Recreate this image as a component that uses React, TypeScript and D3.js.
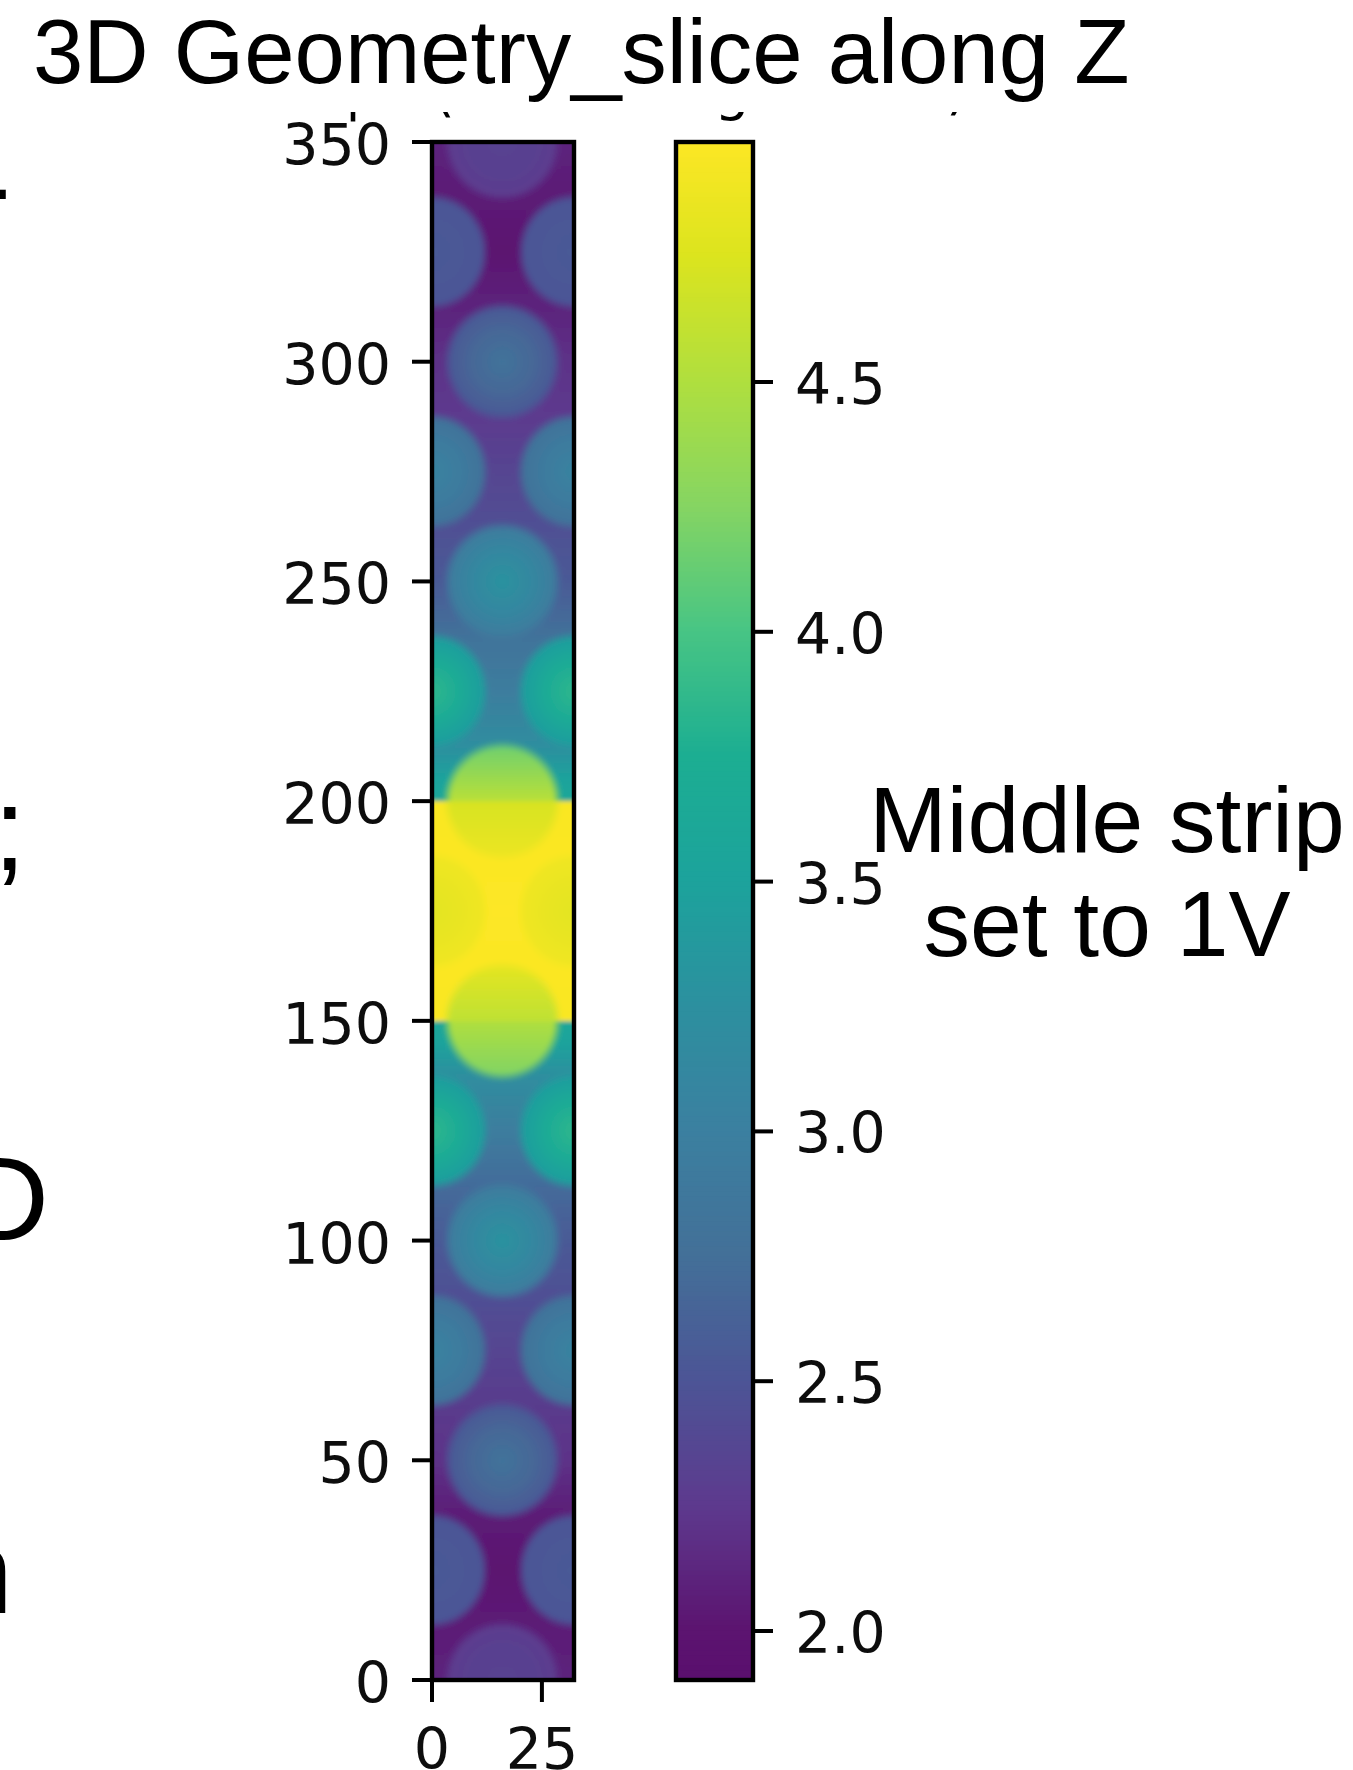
import React from "react";
import * as d3 from "d3";

const W = 1353, H = 1770;
const titleText = "3D Geometry_slice along Z";
const noteLines = ["Middle strip", "set to 1V"];
const yTicks = [0, 50, 100, 150, 200, 250, 300, 350];
const xTicks = [0, 25];
const cbTicks = [2.0, 2.5, 3.0, 3.5, 4.0, 4.5];

// colour ramp
const rampValues = [1.9, 2.0, 2.25, 2.5, 2.75, 3.0, 3.25, 3.5, 3.75, 4.0, 4.25, 4.5, 4.75, 4.98];
const rampColors = ["#5a0f6e", "#5c1470", "#5d3a8e", "#4c5596", "#437098", "#3b80a0", "#2c909f", "#1ca39c", "#1cae92", "#48c584", "#86d562", "#b0df3e", "#dce41e", "#fde725"];

// background potential along the strip (y, value)
const bgY = [-5, 0, 25, 37, 50, 75, 88, 100, 125, 137, 145, 149.9, 150, 175, 199.9, 200, 205, 213, 225, 237, 250, 275, 288, 300, 325, 350, 355];
const bgV = [2.1, 2.1, 2.0, 2.05, 2.2, 2.35, 2.45, 2.55, 2.95, 3.2, 3.5, 3.6, 4.95, 4.98, 4.95, 3.6, 3.5, 3.2, 2.95, 2.8, 2.55, 2.35, 2.25, 2.2, 2.0, 2.1, 2.1];

// whole discs on the centre line
const centreY = [0, 50, 100, 250, 300, 350];
const centreMid = [2.33, 2.8, 3.28, 3.28, 2.8, 2.33];
const centreRim = [2.28, 2.55, 2.95, 2.95, 2.55, 2.28];

// discs on both side edges
const sideX = [0, 32.3];
const sideY = [25, 75, 125, 175, 225, 275, 325];
const sideMid = [2.55, 3.05, 3.85, 4.8, 3.85, 3.05, 2.55];
const sideRim = [2.5, 2.8, 3.45, 4.88, 3.45, 2.8, 2.5];

// discs cut by the strip boundary
const halfDisc = [150, 150, 200, 200];
const halfFrom = [137, 150, 187, 200];
const halfTo = [150, 163, 200, 213];
const halfFromV = [4.22, 4.58, 4.86, 4.55];
const halfToV = [4.5, 4.82, 4.72, 4.15];

// remnants of cropped neighbouring text
const leftFrag = [
  { t: "-", x: 11, y: 226 },
  { t: ";", x: 26, y: 870 },
  { t: "D", x: 49, y: 1240 },
  { t: "n", x: 13, y: 1613 },
];
const topFrag = [
  { t: "|", x: 353, y: 108 },
  { t: "(", x: 444, y: 110 },
  { t: "g", x: 732, y: 109 },
  { t: ")", x: 957, y: 108 },
];

const x = d3.scaleLinear().domain([0, 32.3]).range([432, 574]);
const y = d3.scaleLinear().domain([0, 350]).range([1680, 142]);
const cbY = d3.scaleLinear().domain([2.0, 4.5]).range([1631, 382]);
const color = d3.scaleLinear<string>().domain(rampValues).range(rampColors).interpolate(d3.interpolateRgb);

const cbLeft = 676, cbRight = 753;
const cbMin = cbY.invert(1680), cbMax = cbY.invert(142);
const cbSteps = d3.range(cbMin, cbMax, (cbMax - cbMin) / 308);

const centreRx = 60, centreRy = 61, sideRx = 58, sideRy = 60;
const tickFont = "'DejaVu Sans'";
const helv = "'Liberation Sans', Arial, sans-serif";
const frameW = 4.4;

function Disc({ id, cx, cy, rx, ry, mid, rim }: any) {
  return (
    <>
      <radialGradient id={id}>
        <stop offset="0" stopColor={color(mid)} />
        <stop offset="0.5" stopColor={color(mid * 0.5 + rim * 0.5)} />
        <stop offset="0.84" stopColor={color(rim)} />
        <stop offset="1" stopColor={color(rim)} stopOpacity={0} />
      </radialGradient>
      <ellipse cx={cx} cy={cy} rx={rx} ry={ry} fill={`url(#${id})`} />
    </>
  );
}

export default function App() {
  const plotL = x(0), plotR = x(32.3), plotT = y(350), plotB = y(0);
  const span = y(-5) - y(355);
  return (
    <svg width={W} height={H} viewBox={`0 0 ${W} ${H}`} style={{ position: "absolute", left: 0, top: 0, background: "#fff" }}>
      <defs>
        <clipPath id="plotClip"><rect x={plotL} y={plotT} width={plotR - plotL} height={plotB - plotT} /></clipPath>
        <clipPath id="topClip"><rect x={0} y={112} width={W} height={14} /></clipPath>
        <filter id="soft" x={plotL - 60} y={plotT - 60} width={plotR - plotL + 120} height={plotB - plotT + 120} filterUnits="userSpaceOnUse">
          <feGaussianBlur stdDeviation="2" />
        </filter>
        <filter id="txt" x="-10%" y="-10%" width="120%" height="120%"><feGaussianBlur stdDeviation="0.7" /></filter>
        <linearGradient id="bg" gradientUnits="userSpaceOnUse" x1="0" x2="0" y1={y(-5)} y2={y(355)}>
          {bgY.map((v, i) => (
            <stop key={i} offset={(y(-5) - y(v)) / span} stopColor={color(bgV[i])} />
          ))}
        </linearGradient>
        {halfDisc.map((c, i) => (
          <React.Fragment key={i}>
            <radialGradient id={`hm${i}`}>
              <stop offset="0.84" stopColor="#fff" />
              <stop offset="1" stopColor="#000" />
            </radialGradient>
            <mask id={`hk${i}`} maskUnits="userSpaceOnUse" x={plotL - 60} y={plotT - 60} width={plotR - plotL + 120} height={plotB - plotT + 120}>
              <ellipse cx={x(16)} cy={y(c)} rx={centreRx} ry={centreRy} fill={`url(#hm${i})`} />
            </mask>
            <linearGradient id={`hg${i}`} gradientUnits="userSpaceOnUse" x1="0" x2="0" y1={y(halfFrom[i])} y2={y(halfTo[i])}>
              <stop offset="0" stopColor={color(halfFromV[i])} />
              <stop offset="1" stopColor={color(halfToV[i])} />
            </linearGradient>
            <clipPath id={`hc${i}`}>
              <rect x={plotL - 20} y={y(halfTo[i]) - 10} width={plotR - plotL + 40} height={y(halfFrom[i]) - y(halfTo[i]) + 10} />
            </clipPath>
            <clipPath id={`hd${i}`}>
              <rect x={plotL - 20} y={i % 2 === 0 ? y(c) : y(c) - 70} width={plotR - plotL + 40} height={70} />
            </clipPath>
          </React.Fragment>
        ))}
      </defs>

      <g clipPath="url(#plotClip)">
        <g filter="url(#soft)">
          <rect x={x(-15)} y={y(355)} width={x(47) - x(-15)} height={span} fill="url(#bg)" />
          {centreY.map((c, i) => (
            <Disc key={c} id={`c${i}`} cx={x(16)} cy={y(c)} rx={centreRx} ry={centreRy} mid={centreMid[i]} rim={centreRim[i]} />
          ))}
          {sideX.map((sx, j) =>
            sideY.map((s, i) => (
              <Disc key={`${j}-${s}`} id={`s${j}-${i}`} cx={x(sx)} cy={y(s)} rx={sideRx} ry={sideRy} mid={sideMid[i]} rim={sideRim[i]} />
            ))
          )}
          {halfDisc.map((c, i) => (
            <g key={i} clipPath={`url(#hd${i})`}>
              <g mask={`url(#hk${i})`}>
                <ellipse cx={x(16)} cy={y(c)} rx={centreRx} ry={centreRy} fill={`url(#hg${i})`} />
              </g>
            </g>
          ))}
        </g>
      </g>
      <rect x={plotL} y={plotT} width={plotR - plotL} height={plotB - plotT} fill="none" stroke="#000" strokeWidth={frameW} />

      {cbSteps.map((v, i) => (
        <rect key={i} x={cbLeft} y={cbY(v) - (cbY(cbMin) - cbY(cbSteps[1])) - 0.5} width={cbRight - cbLeft} height={(cbY(cbMin) - cbY(cbSteps[1])) + 1} fill={color(v)} />
      ))}
      <rect x={cbLeft} y={plotT} width={cbRight - cbLeft} height={plotB - plotT} fill="none" stroke="#000" strokeWidth={frameW} />

      <g stroke="#000" strokeWidth={4}>
        {yTicks.map((t) => <line key={t} x1={plotL - 20} x2={plotL} y1={y(t)} y2={y(t)} />)}
        {xTicks.map((t) => <line key={t} x1={x(t)} x2={x(t)} y1={plotB} y2={plotB + 22} />)}
        {cbTicks.map((t) => <line key={t} x1={cbRight} x2={cbRight + 20} y1={cbY(t)} y2={cbY(t)} />)}
      </g>

      <g fontFamily={tickFont} fontSize={57} fill="#111" filter="url(#txt)">
        {yTicks.map((t) => (
          <text key={t} x={plotL - 41} y={y(t) + 23} textAnchor="end">{t}</text>
        ))}
        {xTicks.map((t) => (
          <text key={t} x={x(t)} y={1769} textAnchor="middle">{t}</text>
        ))}
        {cbTicks.map((t) => (
          <text key={t} x={795} y={cbY(t) + 22}>{t.toFixed(1)}</text>
        ))}
      </g>

      <g clipPath="url(#topClip)" fontFamily={tickFont} fontSize={55} fill="#000">
        {topFrag.map((f, i) => <text key={i} x={f.x} y={f.y} textAnchor="middle">{f.t}</text>)}
      </g>

      <text x={33} y={83} fontFamily={helv} fontSize={90.5} fill="#000">{titleText}</text>
      <g fontFamily={helv} fontSize={93} fill="#000" textAnchor="middle">
        <text x={1107} y={852}>{noteLines[0]}</text>
        <text x={1107} y={956}>{noteLines[1]}</text>
      </g>
      <g fontFamily={helv} fontSize={118} fill="#000" textAnchor="end">
        {leftFrag.map((f, i) => <text key={i} x={f.x} y={f.y}>{f.t}</text>)}
      </g>
    </svg>
  );
}
